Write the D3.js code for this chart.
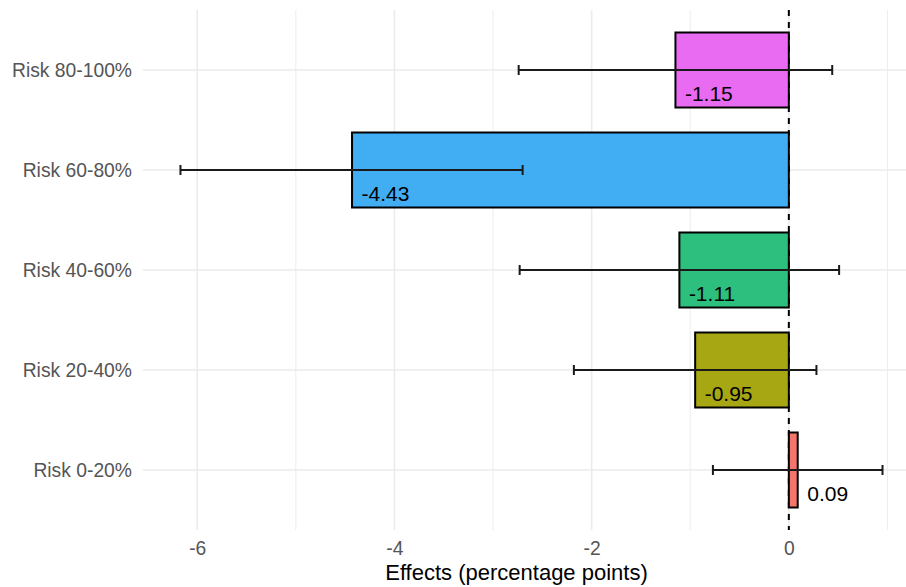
<!DOCTYPE html>
<html>
<head>
<meta charset="utf-8">
<script src="https://cdn.jsdelivr.net/npm/d3@7"></script>
<style>
  html, body { margin: 0; padding: 0; background: #fff; }
  svg { display: block; }
</style>
</head>
<body>
<div id="chart"></div>
<script>
const categories = ["Risk 0-20%", "Risk 20-40%", "Risk 40-60%", "Risk 60-80%", "Risk 80-100%"];
const effects = [0.09, -0.95, -1.11, -4.43, -1.15];
const lowerCI = [-0.77, -2.18, -2.73, -6.17, -2.74];
const upperCI = [0.95, 0.28, 0.51, -2.70, 0.44];
const barColors = ["#F5756C", "#A7A613", "#2DBF7D", "#41AEF3", "#E86BF2"];
const majorTicks = [-6, -4, -2, 0];
const minorTicks = [-5, -3, -1, 1];
const xTitle = "Effects (percentage points)";

const W = 906, H = 587;
const panel = { left: 143, right: 918, top: 10, bottom: 530 };
const FONT = "Liberation Sans, Arial, sans-serif";

const svg = d3.select("#chart").append("svg")
  .attr("width", W).attr("height", H);

const x = d3.scaleLinear().domain([-6.55, 1.31]).range([panel.left, panel.right]);
const y = d3.scalePoint().domain(categories).range([panel.bottom - 60, panel.top + 60]);
const step = 100;
const barH = step * 0.75;

const data = categories.map((c, i) => ({
  cat: c, v: effects[i], lo: lowerCI[i], hi: upperCI[i], col: barColors[i]
}));

// grid
const grid = svg.append("g");
grid.selectAll("line.minor").data(minorTicks).join("line")
  .attr("x1", d => x(d)).attr("x2", d => x(d))
  .attr("y1", panel.top).attr("y2", panel.bottom)
  .attr("stroke", "#EDEDED").attr("stroke-width", 1);
grid.selectAll("line.major").data(majorTicks).join("line")
  .attr("x1", d => x(d)).attr("x2", d => x(d))
  .attr("y1", panel.top).attr("y2", panel.bottom)
  .attr("stroke", "#EBEBEB").attr("stroke-width", 1.6);
grid.selectAll("line.hmajor").data(categories).join("line")
  .attr("x1", panel.left).attr("x2", panel.right)
  .attr("y1", d => y(d)).attr("y2", d => y(d))
  .attr("stroke", "#EBEBEB").attr("stroke-width", 1.6);

// zero dashed line
svg.append("line")
  .attr("x1", x(0)).attr("x2", x(0))
  .attr("y1", panel.top).attr("y2", panel.bottom)
  .attr("stroke", "#000").attr("stroke-width", 2)
  .attr("stroke-dasharray", "6,6");

// bars
svg.append("g").selectAll("rect").data(data).join("rect")
  .attr("x", d => Math.min(x(d.v), x(0)))
  .attr("width", d => Math.abs(x(d.v) - x(0)))
  .attr("y", d => y(d.cat) - barH / 2)
  .attr("height", barH)
  .attr("fill", d => d.col)
  .attr("stroke", "#000").attr("stroke-width", 2);

// error bars
const eb = svg.append("g").attr("stroke", "#1a1a1a").attr("stroke-width", 2);
eb.selectAll("line.h").data(data).join("line")
  .attr("x1", d => x(d.lo)).attr("x2", d => x(d.hi))
  .attr("y1", d => y(d.cat)).attr("y2", d => y(d.cat));
eb.selectAll("line.l").data(data).join("line")
  .attr("x1", d => x(d.lo)).attr("x2", d => x(d.lo))
  .attr("y1", d => y(d.cat) - 5).attr("y2", d => y(d.cat) + 5);
eb.selectAll("line.r").data(data).join("line")
  .attr("x1", d => x(d.hi)).attr("x2", d => x(d.hi))
  .attr("y1", d => y(d.cat) - 5).attr("y2", d => y(d.cat) + 5);

// value labels
svg.append("g").selectAll("text").data(data).join("text")
  .attr("x", d => x(d.v) + 9.5)
  .attr("y", d => y(d.cat) + 25)
  .attr("dominant-baseline", "middle")
  .attr("font-family", FONT)
  .attr("font-size", 21)
  .attr("fill", "#000")
  .text(d => d.v.toFixed(2));

// axes
const xAxis = svg.append("g")
  .attr("transform", `translate(0,${panel.bottom})`)
  .call(d3.axisBottom(x).tickValues(majorTicks).tickSize(0).tickPadding(11)
    .tickFormat(d => String(d)));
xAxis.select(".domain").remove();
xAxis.selectAll("text")
  .attr("font-family", FONT)
  .attr("font-size", 19.3).attr("fill", "#555");

const yAxis = svg.append("g")
  .attr("transform", `translate(${panel.left},0)`)
  .call(d3.axisLeft(y).tickSize(0).tickPadding(11));
yAxis.select(".domain").remove();
yAxis.selectAll("text")
  .attr("font-family", FONT)
  .attr("font-size", 19.3).attr("fill", "#555");

svg.append("text")
  .attr("x", 516.5).attr("y", 580)
  .attr("text-anchor", "middle")
  .attr("font-family", FONT)
  .attr("font-size", 22).attr("fill", "#000")
  .text(xTitle);
</script>
</body>
</html>
